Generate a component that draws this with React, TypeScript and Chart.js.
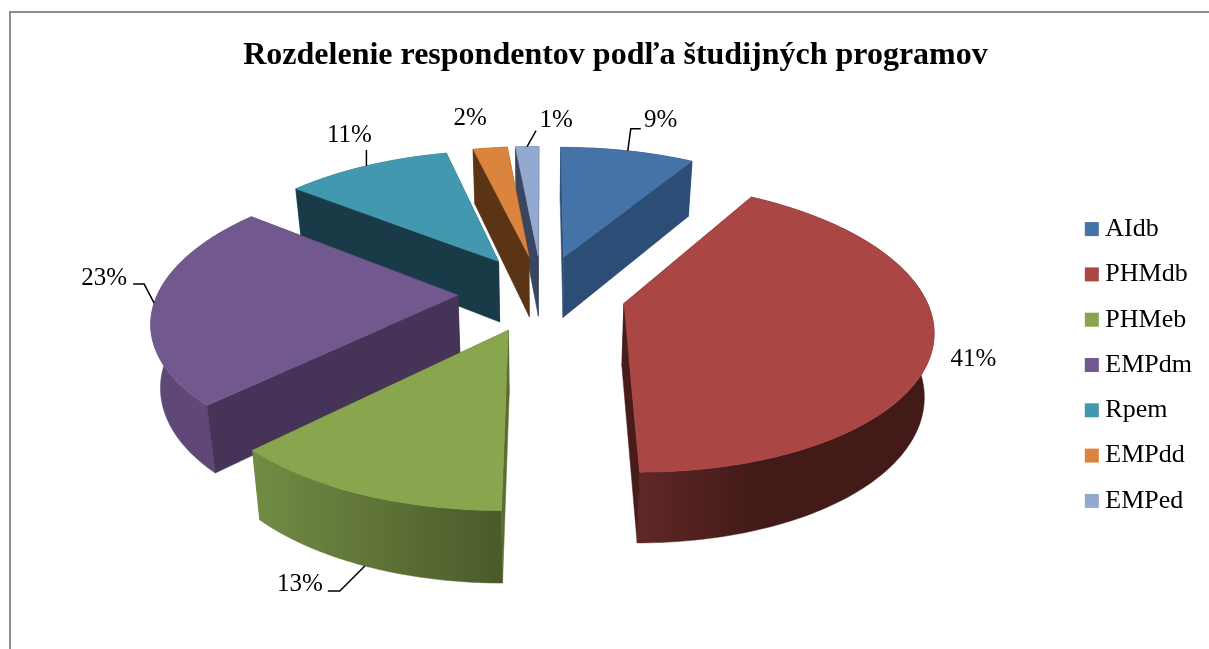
import React, { useEffect, useRef } from "react";
import { Chart, registerables } from "chart.js";

Chart.register(...registerables);

const chartTitle = "Rozdelenie respondentov podľa študijných programov";
const categories = ["AIdb", "PHMdb", "PHMeb", "EMPdm", "Rpem", "EMPdd", "EMPed"];
const shares = [8.6, 41.3, 12.5, 23.1, 10.6, 2.2, 1.49];
const topColors = ["#4572A7", "#AA4643", "#89A54E", "#71588F", "#4198AF", "#DB843D", "#93A9CF"];
const sideColors = ["#2C4D75", "#481C1A", "#5A6C32", "#453457", "#193B48", "#5A3415", "#3A4660"];
const rimLeftColors = ["#2C4D75", "#5F2725", "#728C43", "#5F4878", "#2B6475", "#8F5627", "#5F6E88"];
const rimRightColors = ["#2C4D75", "#421A18", "#4B5A2B", "#5F4878", "#2B6475", "#8F5627", "#5F6E88"];

const labelLayouts = [
  { dx: 33, dy: -30, z: 0, leader: [[3, -22], [13, -22]] },
  { dx: 40, dy: 16, z: 0, leader: [] },
  { dx: -65, dy: 18, z: 1, leader: [[-25, 25], [-37, 25]] },
  { dx: -50, dy: -25, z: 0, leader: [[-10, -19], [-21, -19]] },
  { dx: -17, dy: -30, z: 0, leader: [[0, -16]] },
  { dx: -20, dy: -30, z: 0, leader: [] },
  { dx: 29, dy: -26, z: 0, leader: [[9, -16]] },
];

const view = {
  cx: 531, cy: 280, radius: 300, tilt: 0.46, perspective: 0.16,
  depth: 62, depthPower: 0.7, taper: 0.025, labelFont: '25px "Liberation Serif"',
};

function project(u: number, v: number, z: number) {
  const s = 1 / (1 - (view.perspective * v) / view.radius);
  const t = 1 - view.taper * z;
  return {
    x: view.cx + u * s * t,
    y: view.cy + view.tilt * v * s + view.depth * z * Math.pow(s, view.depthPower),
  };
}

const pie3d = {
  id: "pie3d",
  beforeDatasetDraw(chart: any) {
    const ctx = chart.ctx as CanvasRenderingContext2D;
    const meta = chart.getDatasetMeta(0);
    const slices = meta.data.map((arc: any, index: number) => {
      const mid = (arc.startAngle + arc.endAngle) / 2;
      const off = arc.options.offset;
      const ox = Math.cos(mid) * off;
      const oy = Math.sin(mid) * off;
      const steps = Math.max(3, Math.round(((arc.endAngle - arc.startAngle) * 180) / Math.PI));
      const rim: [number, number][] = [];
      for (let i = 0; i <= steps; i++) {
        const a = arc.startAngle + ((arc.endAngle - arc.startAngle) * i) / steps;
        rim.push([ox + Math.cos(a) * view.radius, oy + Math.sin(a) * view.radius]);
      }
      return { index, mid, ox, oy, rim, off };
    });
    slices.sort((a: any, b: any) => a.oy - b.oy);

    const polygon = (pts: { x: number; y: number }[], fill: any, line: number) => {
      ctx.beginPath();
      pts.forEach((q, i) => (i ? ctx.lineTo(q.x, q.y) : ctx.moveTo(q.x, q.y)));
      ctx.closePath();
      ctx.fillStyle = fill;
      ctx.strokeStyle = fill;
      ctx.lineWidth = line;
      ctx.fill();
      ctx.stroke();
    };

    slices.forEach((s: any) => {
      const apex = [s.ox, s.oy];
      const first = s.rim[0];
      const last = s.rim[s.rim.length - 1];
      const top = s.rim.map((r: number[]) => project(r[0], r[1], 0));
      const bottom = s.rim.map((r: number[]) => project(r[0], r[1], 1));
      const xs = top.map((p: any) => p.x);
      const grad = ctx.createLinearGradient(Math.min(...xs), 0, Math.max(...xs), 0);
      grad.addColorStop(0, rimLeftColors[s.index]);
      grad.addColorStop(s.index === 1 ? 0.4 : 1, rimRightColors[s.index]);
      grad.addColorStop(1, rimRightColors[s.index]);
      const radial = (edge: number[]) => [
        project(apex[0], apex[1], 0),
        project(edge[0], edge[1], 0),
        project(edge[0], edge[1], 1),
        project(apex[0], apex[1], 1),
      ];
      const [far, near] = first[1] < last[1] ? [first, last] : [last, first];
      polygon(radial(far), sideColors[s.index], 0.5);
      polygon([...top, ...bottom.slice().reverse()], grad, 0.5);
      polygon(radial(near), sideColors[s.index], 0.5);
      polygon([project(apex[0], apex[1], 0), ...top], meta.controller.getStyle(s.index).backgroundColor, 0.5);
    });

    ctx.font = view.labelFont;
    ctx.textAlign = "center";
    ctx.textBaseline = "middle";
    slices.forEach((s: any) => {
      const layout = labelLayouts[s.index];
      const a = project(s.ox + Math.cos(s.mid) * view.radius, s.oy + Math.sin(s.mid) * view.radius, layout.z);
      if (layout.leader.length) {
        ctx.beginPath();
        ctx.moveTo(a.x, a.y);
        layout.leader.forEach(([dx, dy]) => ctx.lineTo(a.x + dx, a.y + dy));
        ctx.strokeStyle = "#000";
        ctx.lineWidth = 1.5;
        ctx.stroke();
      }
      ctx.fillStyle = "#000";
      ctx.fillText(`${Math.round(shares[s.index])}%`, a.x + layout.dx, a.y + layout.dy);
    });
    return false;
  },
};

export default function App() {
  const ref = useRef<HTMLCanvasElement>(null);
  useEffect(() => {
    const chart = new Chart(ref.current!, {
      type: "pie",
      data: {
        labels: categories,
        datasets: [{ data: shares, backgroundColor: topColors, borderWidth: 0, offset: 84 }],
      },
      options: {
        animation: false,
        responsive: false,
        devicePixelRatio: 1,
        layout: { padding: { left: 18, right: 25 } },
        plugins: {
          tooltip: { enabled: false },
          title: {
            display: true,
            text: chartTitle,
            color: "#000",
            font: { family: '"Liberation Serif"', size: 32, weight: "bold" },
            padding: { top: 24, bottom: 20 },
          },
          legend: {
            position: "right",
            labels: {
              color: "#000",
              font: { family: '"Liberation Serif"', size: 26 },
              usePointStyle: true,
              pointStyle: "rect",
              boxWidth: 1,
              boxHeight: 14,
              padding: 19.3,
            },
          },
        },
      },
      plugins: [pie3d],
    } as any);
    return () => chart.destroy();
  }, []);
  return (
    <div style={{ position: "fixed", left: 0, top: 0, width: 1209, height: 649, overflow: "hidden", background: "#fff" }}>
      <div style={{ position: "absolute", left: 9, top: 11, width: 1300, height: 800, borderLeft: "2px solid #8e8e8e", borderTop: "2px solid #8e8e8e" }}>
        <canvas ref={ref} width={1216} height={704} style={{ display: "block" }} />
      </div>
    </div>
  );
}
